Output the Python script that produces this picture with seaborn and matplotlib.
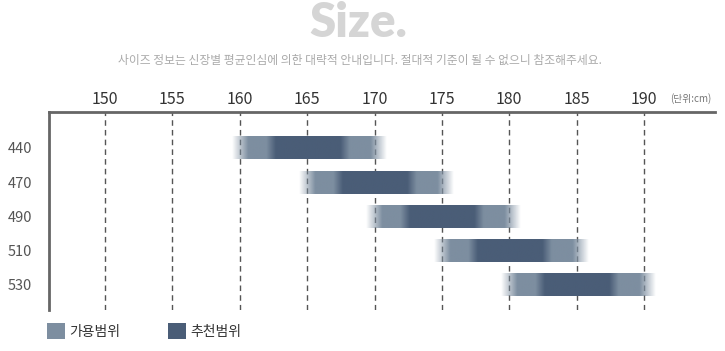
import numpy as np
import seaborn as sns
import matplotlib.pyplot as plt
from matplotlib.colors import to_rgb
from matplotlib.patches import Patch

# 사이즈별 신장 범위 (cm)
sizes = ['440', '470', '490', '510', '530']
avail_lo = [160, 165, 170, 175, 180]   # 가용범위 시작
avail_hi = [170.3, 175.3, 180.3, 185.3, 190.3]   # 가용범위 끝
rec_lo = [162.3, 167.3, 172.3, 177.3, 182.3]  # 추천범위 시작
rec_hi = [167.8, 172.8, 177.8, 182.8, 187.8]  # 추천범위 끝
ticks = [150, 155, 160, 165, 170, 175, 180, 185, 190]

light = '#7d8ea0'
dark = '#4a5d77'

sns.set_theme(style='white')
plt.rcParams['font.family'] = ['Noto Sans CJK KR', 'DejaVu Sans']

fig = plt.figure(figsize=(7.25, 3.51), dpi=100, facecolor='white')
ax = fig.add_axes([49 / 725, 1 - 310 / 351, 666 / 725, 198 / 351])

# 세로 점선
for t in ticks:
    ax.axvline(t, color='#555555', lw=1, ls=(0, (4, 3)), zorder=1)

# 흐림 효과가 있는 막대
c_light = np.array(to_rgb(light))
c_dark = np.array(to_rgb(dark))
fade = 0.6
blend = 0.35
h = 0.335
for i in range(len(sizes)):
    x0, x1 = avail_lo[i] - fade, avail_hi[i] + fade
    xs = np.linspace(x0, x1, 400)
    alpha = np.clip((xs - x0) / (2 * fade), 0, 1) * np.clip((x1 - xs) / (2 * fade), 0, 1)
    mix = (np.clip((xs - (rec_lo[i] - blend)) / (2 * blend), 0, 1)
           * np.clip(((rec_hi[i] + blend) - xs) / (2 * blend), 0, 1))
    rgb = c_light[None, :] * (1 - mix[:, None]) + c_dark[None, :] * mix[:, None]
    img = np.concatenate([rgb, alpha[:, None]], axis=1)[None, :, :]
    ax.imshow(img, extent=(x0, x1, i + h, i - h), aspect='auto',
              interpolation='bilinear', zorder=2)

ax.set_xlim(145.84, 195.27)
ax.set_ylim(4.73, -1.05)

ax.xaxis.tick_top()
ax.set_xticks(ticks)
ax.set_xticklabels([str(t) for t in ticks], fontsize=11.5, color='#333333')
ax.tick_params(axis='x', length=0, pad=3)
ax.set_yticks(range(len(sizes)))
ax.set_yticklabels(sizes, fontsize=10.5, color='#555555')
ax.tick_params(axis='y', length=0, pad=12)
ax.grid(False)

sns.despine(ax=ax, top=False, right=True, bottom=True, left=False)
for s in ['top', 'left']:
    ax.spines[s].set_color('#666666')
    ax.spines[s].set_linewidth(2)

# 제목과 설명
fig.text(358 / 725, 1 - 23 / 351, 'Size.', ha='center', va='center',
         fontsize=34, fontweight='heavy', color='#d5d5d5', family=['Lato', 'DejaVu Sans'])
fig.text(360 / 725, 1 - 60 / 351,
         '사이즈 정보는 신장별 평균인심에 의한 대략적 안내입니다. 절대적 기준이 될 수 없으니 참조해주세요.',
         ha='center', va='center', fontsize=8.5, color='#aaaaaa')
fig.text(691 / 725, 1 - 99 / 351, '(단위:cm)', ha='center', va='center',
         fontsize=7, color='#777777')

# 범례
handles = [Patch(facecolor=light, edgecolor='none', label='가용범위'),
           Patch(facecolor=dark, edgecolor='none', label='추천범위')]
fig.legend(handles=handles, loc='center left', bbox_to_anchor=(34 / 725, 1 - 331 / 351),
           ncol=2, frameon=False, fontsize=10, handlelength=1.35, handleheight=1.4,
           handletextpad=0.3, columnspacing=3.4, labelcolor='#333333')

plt.savefig('out.png', dpi=100, facecolor='white')
plt.close()
